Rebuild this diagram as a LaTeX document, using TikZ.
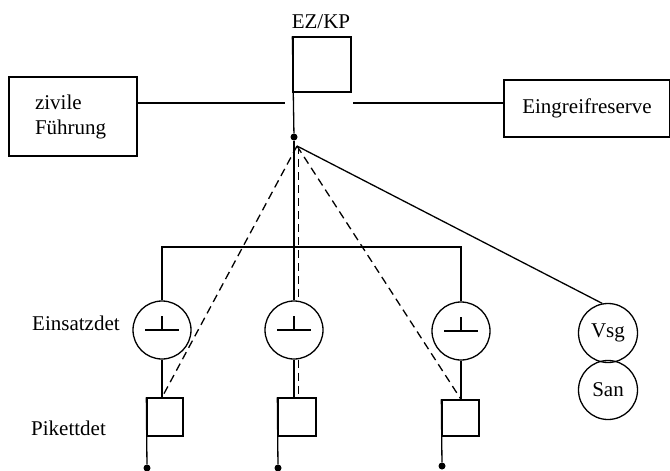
\documentclass[tikz,border=0pt]{standalone}
\usepackage{fontspec}
\setmainfont{Liberation Serif}
\usepackage{tikz}
\usetikzlibrary{positioning}
\tikzstyle{unit} = [rectangle, draw=black, line width=1.3pt, inner sep=0pt]
\tikzstyle{flagbox} = [rectangle, draw=black, line width=1.3pt, minimum width=37pt, minimum height=37pt, inner sep=0pt]
\tikzstyle{detcircle} = [circle, draw=black, line width=1.3pt, minimum size=58pt, inner sep=0pt,
  path picture={\draw[line width=1.3pt] ([xshift=-17pt]path picture bounding box.center) -- ([xshift=17pt]path picture bounding box.center)
    (path picture bounding box.center) -- ([yshift=14pt]path picture bounding box.center);}]
\tikzstyle{svccircle} = [circle, draw=black, line width=1.3pt, minimum size=59pt, inner sep=0pt]
\tikzstyle{footdot} = [circle, fill=black, minimum size=7pt, inner sep=0pt]
\tikzstyle{link} = [line width=1.3pt]
\tikzstyle{dashlink} = [line width=1.3pt, dash pattern=on 8pt off 5pt]

\begin{document}
\begin{tikzpicture}[x=1pt, y=-1pt, font=\fontsize{21}{25}\selectfont]
            \useasboundingbox (0,0) rectangle (670,471);

            % Command post
            \node[anchor=base] (ezkptxt) at (321,28) {EZ/KP};
            \node[flagbox, minimum width=58pt, minimum height=55pt] (ezkp) at (322,64.5) {};
            \node[footdot] (hq) at (294,137) {};
            \coordinate (fan) at (297,146);
            \coordinate (fanmid) at (298.5,146);
            \draw[link] (ezkp.north west) -- (hq);

            % Side elements
            \node[unit, minimum width=128pt, minimum height=79pt, text width=76pt, inner xsep=26pt, align=left] (civil) at (73,116.5) {zivile\\Führung};
            \node[unit, minimum width=166pt, minimum height=57pt] (reserve) at (587,108.5) {Eingreifreserve};
            \coordinate (gapl) at (285,103);
            \coordinate (gapr) at (353,103);
            \draw[link] (civil.east |- gapl) -- (gapl);
            \draw[link] (gapr) -- (reserve.west |- gapr);

            % Einsatz detachments
            \node[detcircle] (det1) at (162,330) {};
            \node[detcircle] (det2) at (294,330) {};
            \node[detcircle] (det3) at (461,331) {};
            \coordinate (bus) at (162,247);
            \draw[link] (det1.north) -- (det1.north |- bus) -- (det3.north |- bus) -- (det3.north);
            \draw[link] (hq) -- (det2.north);

            % Pikett detachments
            \node[flagbox, minimum width=36pt, minimum height=38pt] (pik1) at (165,417) {};
            \node[flagbox, minimum width=38pt, minimum height=38pt] (pik2) at (297,417) {};
            \node[flagbox, minimum width=37pt, minimum height=36pt] (pik3) at (460.5,418) {};
            \node[footdot] (foot1) at (147,468) {};
            \node[footdot] (foot2) at (278,468) {};
            \node[footdot] (foot3) at (442,466) {};
            \draw[link] (pik1.north west) -- (foot1);
            \draw[link] (pik2.north west) -- (foot2);
            \draw[link] (pik3.north west) -- (foot3);
            \draw[link] (det1.south) -- (det1.south |- pik1.north);
            \draw[link] (det2.south) -- (det2.south |- pik2.north);
            \draw[link] (det3.south) -- (det3.south |- pik3.north);

            % Vsg / San
            \node[svccircle] (vsg) at (608,333) {Vsg};
            \node[svccircle] (san) at (608,390) {San};
            \draw[link] (fan) -- (vsg.101);

            % Dashed lines
            \draw[dashlink] (fan) -- (det1.south |- pik1.north);
            \draw[dashlink] (fanmid) -- (fanmid |- det2.north);
            \draw[dashlink] (fanmid |- det2.south) -- (fanmid |- pik2.north);
            \draw[dashlink] (fan) -- (det3.south |- pik3.north);

            % Row labels
            \node[anchor=base west, inner sep=0pt] (einlbl) at (32,330) {Einsatzdet};
            \node[anchor=base west, inner sep=0pt] (piklbl) at (31,435) {Pikettdet};
        \end{tikzpicture}
\end{document}
